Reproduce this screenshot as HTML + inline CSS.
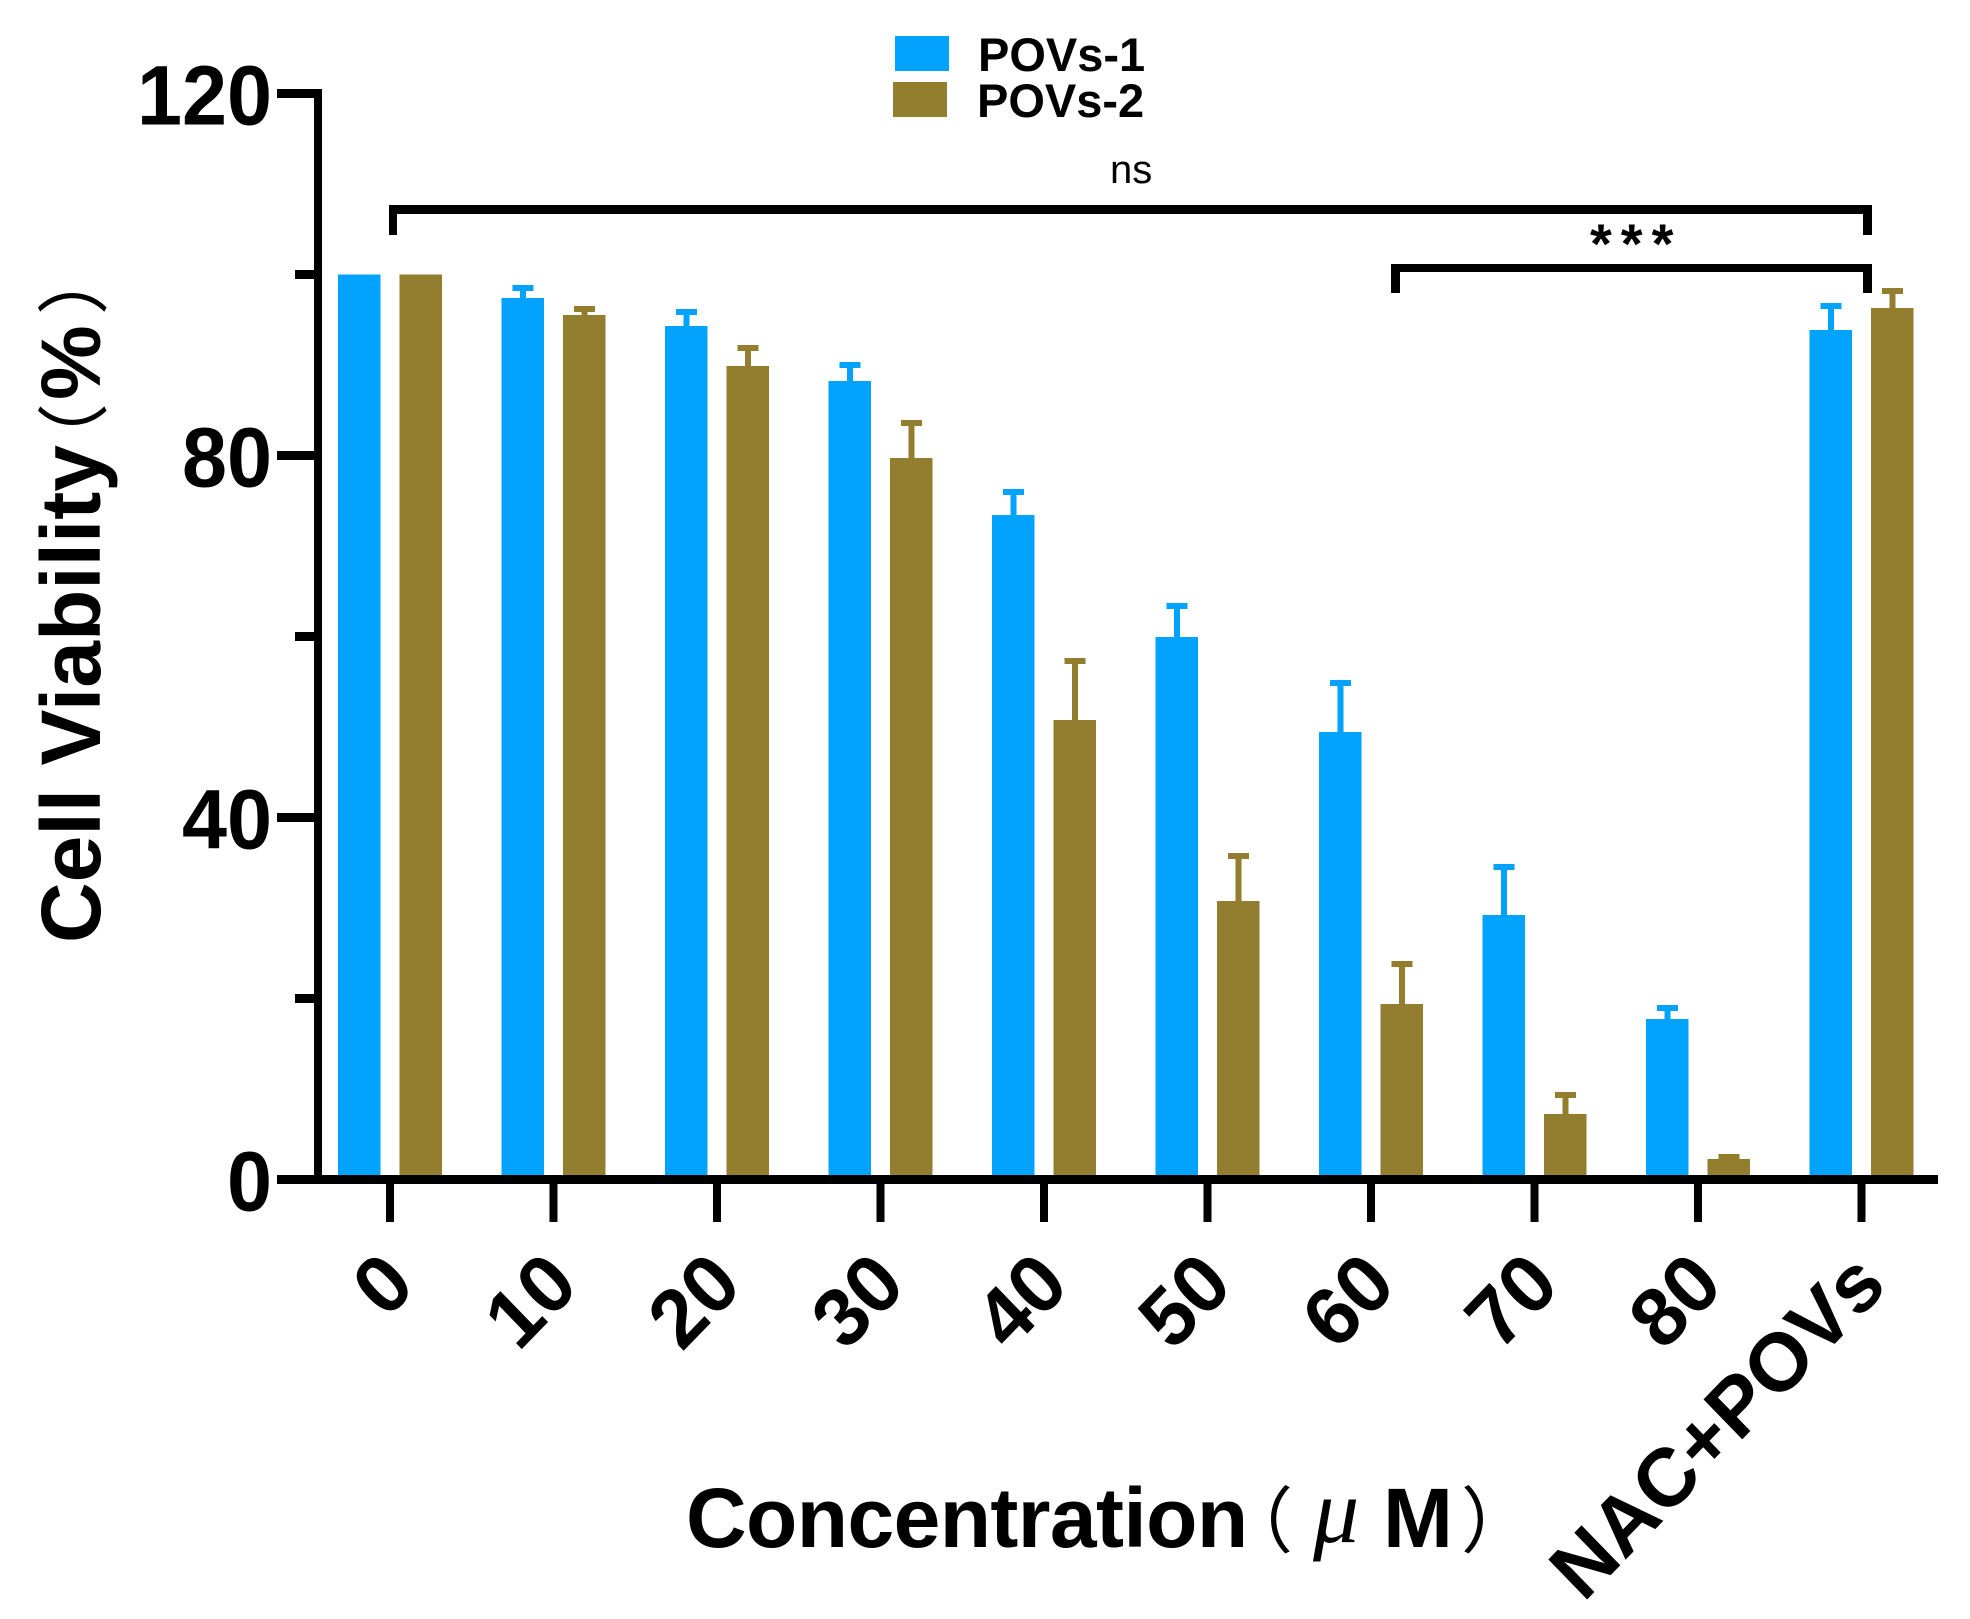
<!DOCTYPE html>
<html lang="en">
<head>
<meta charset="utf-8">
<title>Cell Viability Chart</title>
<style>
html,body{margin:0;padding:0;background:#fff;}
svg{display:block;}
text{fill:#000;font-family:"Liberation Sans","Noto Sans CJK SC",sans-serif;}
.b{font-weight:700;font-size:84px;}
.paren{font-family:"Noto Sans CJK SC",sans-serif;font-weight:400;font-size:72px;}
</style>
</head>
<body>
<svg id="chart" xmlns="http://www.w3.org/2000/svg" width="1970" height="1619" viewBox="0 0 1970 1619">
  <g id="bars" shape-rendering="crispEdges"></g>
  <g id="axes" shape-rendering="crispEdges"></g>
  <g id="labels"></g>

  <g>
    <rect x="895" y="36" width="54" height="35" fill="#02A3FE"/>
    <text x="978" y="71" font-size="47" font-weight="700">POVs-1</text>
    <rect x="893" y="82" width="54" height="35" fill="#937D2F"/>
    <text x="977" y="117" font-size="47" font-weight="700">POVs-2</text>
  </g>

  <g shape-rendering="crispEdges">
    <path d="M389 235V205H1872V235H1863V214H397V235Z" fill="#000"/>
    <path d="M1391 293V264H1872V293H1863V272H1400V293Z" fill="#000"/>
  </g>
  <text x="1110" y="183" font-size="40">ns</text>
  <text x="1590" y="263" font-size="56" font-weight="700" letter-spacing="9">***</text>

  <text class="b" transform="translate(100,943) rotate(-90)">Cell Viability<tspan class="paren" x="468">（</tspan><tspan x="543">%</tspan><tspan class="paren" x="628">）</tspan></text>

  <text class="b" x="686" y="1547"><tspan letter-spacing="-0.6">Concentration</tspan><tspan class="paren" x="1221">（</tspan><tspan x="1313" y="1542" style="font-family:'Liberation Serif',serif;font-style:italic;font-weight:400;font-size:92px">μ</tspan><tspan x="1383" y="1547">M</tspan><tspan class="paren" x="1461">）</tspan></text>
</svg>

<script>
var categories = ["0","10","20","30","40","50","60","70","80","NAC+POVs"];
var povs1Values = [100, 97.40, 94.31, 88.23, 73.43, 59.94, 49.45, 29.23, 17.73, 93.87];
var povs1Errors = [0, 1.44, 1.88, 2.10, 2.87, 3.76, 5.75, 5.64, 1.55, 2.98];
var povs2Values = [100, 95.52, 89.89, 79.72, 50.77, 30.77, 19.39, 7.24, 2.27, 96.30];
var povs2Errors = [0, 0.99, 2.32, 4.20, 6.85, 5.30, 4.75, 2.43, 0.55, 2.21];
var yMajorTicks = [0, 40, 80, 120];
var yMinorTicks = [20, 60, 100];

var NS = "http://www.w3.org/2000/svg";
var BLUE = "#02A3FE", BROWN = "#937D2F";
var barsG = document.getElementById("bars");
var axesG = document.getElementById("axes");
var labelsG = document.getElementById("labels");

function yScale(v) { return 1179.5 - 9.05 * v; }
function xScale(i) { return 390 + 163.5 * i; }

function make(parent, tag, attrs) {
  var el = document.createElementNS(NS, tag);
  for (var k in attrs) { el.setAttribute(k, attrs[k]); }
  parent.appendChild(el);
  return el;
}

function drawBar(i, offset, value, error, color, seriesName) {
  var cx = xScale(i) + offset;
  var top = yScale(value);
  var bar = make(barsG, "rect", {x: cx - 21.25, y: top, width: 42.5, height: yScale(0) - top, fill: color});
  
  
  if (error > 0) {
    var capTop = yScale(value + error);
    var stem = make(barsG, "rect", {x: cx - 3, y: capTop, width: 6, height: top - capTop, fill: color});
    
    
    var cap = make(barsG, "rect", {x: cx - 10.5, y: capTop, width: 21, height: 6, fill: color});
    
    
  }
}

categories.forEach(function (c, i) {
  drawBar(i, -30.75, povs1Values[i], povs1Errors[i], BLUE, 'povs-1');
  drawBar(i, 30.75, povs2Values[i], povs2Errors[i], BROWN, 'povs-2');
});

var yAxisLine = make(axesG, "rect", {x: 314, y: yScale(120) - 4.5, width: 8, height: yScale(0) - yScale(120) + 9, fill: "#000"});



var xAxisLine = make(axesG, "rect", {x: 277, y: 1175, width: 1661, height: 9, fill: "#000"});



yMajorTicks.forEach(function (t) {
  var tick = make(axesG, "rect", {x: 277, y: yScale(t) - 4.5, width: 40, height: 9, fill: "#000"});
  
  
  var s = String(t);
  var label = make(labelsG, "text", {x: 272, y: yScale(t) + 31, "text-anchor": "end", "class": "b", textLength: s.length * 45, lengthAdjust: "spacingAndGlyphs"});
  label.textContent = s;
  
  
});

yMinorTicks.forEach(function (t) {
  var tick = make(axesG, "rect", {x: 295, y: yScale(t) - 4.5, width: 22, height: 9, fill: "#000"});
  
  
});

categories.forEach(function (c, i) {
  var cx = xScale(i);
  var tick = make(axesG, "rect", {x: cx - 4, y: 1184, width: 8, height: 38, fill: "#000"});
  
  
  var ax = cx + 27.5, ay = 1288;
  var label = make(labelsG, "text", {x: 0, y: 0, "text-anchor": "end", "class": "b", transform: "translate(" + ax + " " + ay + ") scale(0.95 0.98) rotate(-45)"});
  label.textContent = c;
  
  
});
</script>
</body>
</html>
